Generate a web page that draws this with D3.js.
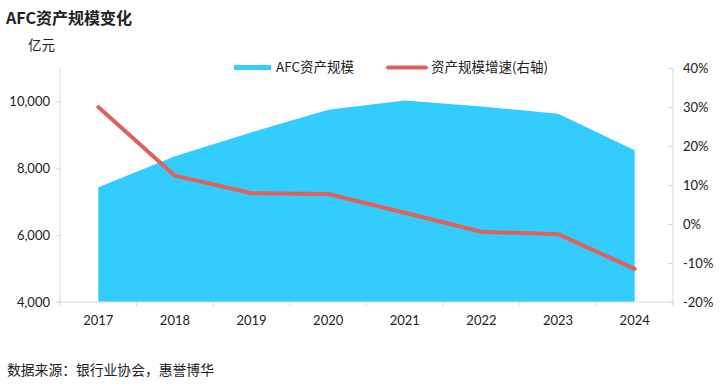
<!DOCTYPE html>
<html>
<head>
<meta charset="utf-8">
<script src="https://cdn.jsdelivr.net/npm/d3@7"></script>
<style>
  body { margin: 0; background: #fff; }
  svg text { font-family: Lato, "Noto Sans CJK SC", sans-serif; fill: #222; }
  .cjk { font-family: "Noto Sans CJK SC", sans-serif; }
</style>
</head>
<body>
<div id="chart"></div>
<script>
'use strict';

// data
var years = ['2017', '2018', '2019', '2020', '2021', '2022', '2023', '2024'];
var assets = [7430, 8360, 9080, 9750, 10030, 9850, 9630, 8540];   // 亿元
var growth = [30.0, 12.4, 7.9, 7.7, 2.9, -2.0, -2.6, -11.5];      // %
var leftTicks = [4000, 6000, 8000, 10000];
var rightTicks = [-20, -10, 0, 10, 20, 30, 40];

(function(){
  var width = 720, height = 387;
  var plotLeft = 60, plotRight = 673, plotTop = 68, plotBottom = 302;
  var areaColor = '#33ccff', lineColor = '#e0605a', axisColor = '#d9d9d9';

  var svg = d3.select('#chart')
    .append('svg')
    .attr('width', width)
    .attr('height', height);

  var x = d3.scaleBand()
    .domain(years)
    .range([plotLeft, plotRight]);

  var yLeft = d3.scaleLinear()
    .domain([4000, 11000])
    .range([plotBottom, plotTop]);

  var yRight = d3.scaleLinear()
    .domain([-20, 40])
    .range([plotBottom, plotTop]);

  var cx = function(i){ return x(years[i]) + x.bandwidth() / 2; };

  // area
  var area = d3.area()
    .x(function(d, i){ return cx(i); })
    .y0(yLeft(4000))
    .y1(function(d){ return yLeft(d); });

  svg.append('path')
    .attr('d', area(assets))
    .attr('fill', areaColor);

  // line
  var line = d3.line()
    .x(function(d, i){ return cx(i); })
    .y(function(d){ return yRight(d); });

  svg.append('path')
    .attr('d', line(growth))
    .attr('fill', 'none')
    .attr('stroke', lineColor)
    .attr('stroke-width', 4)
    .attr('stroke-linejoin', 'round')
    .attr('stroke-linecap', 'round');

  // left axis
  var gl = svg.append('g')
    .attr('transform', 'translate(' + plotLeft + ',0)')
    .call(d3.axisLeft(yLeft).tickValues(leftTicks).tickFormat(d3.format(',')).tickSize(4).tickPadding(6));

  // right axis
  var gr = svg.append('g')
    .attr('transform', 'translate(' + plotRight + ',0)')
    .call(d3.axisRight(yRight).tickValues(rightTicks).tickFormat(function(d){ return d + '%'; }).tickSize(0).tickPadding(10));
  gr.selectAll('.tick').append('line')
    .attr('x1', -5).attr('x2', 0);

  // bottom axis, ticks between categories
  var gb = svg.append('g')
    .attr('transform', 'translate(0,' + plotBottom + ')')
    .call(d3.axisBottom(x).tickSize(0).tickPadding(14));
  var bounds = d3.range(years.length + 1).map(function(i){ return plotLeft + i * x.bandwidth(); });
  gb.selectAll('.sep')
    .data(bounds)
    .enter()
    .append('line')
    .attr('class', 'sep')
    .attr('x1', function(d){ return d; })
    .attr('x2', function(d){ return d; })
    .attr('y1', 0)
    .attr('y2', 4);

  [gl, gr, gb].forEach(function(g){
    g.selectAll('.domain').remove();
    g.selectAll('line').attr('stroke', axisColor);
    g.selectAll('text').style('font-size', '13px').attr('fill', '#222');
  });

  svg.append('line')
    .attr('x1', plotLeft).attr('x2', plotLeft).attr('y1', plotTop).attr('y2', plotBottom)
    .attr('stroke', axisColor);
  svg.append('line')
    .attr('x1', plotRight).attr('x2', plotRight).attr('y1', plotTop).attr('y2', plotBottom + 4)
    .attr('stroke', axisColor);
  svg.append('line')
    .attr('x1', plotLeft - 4).attr('x2', plotRight).attr('y1', plotBottom).attr('y2', plotBottom)
    .attr('stroke', axisColor);

  // title & unit
  svg.append('text')
    .attr('class', 'cjk')
    .attr('x', 6).attr('y', 24)
    .style('font-size', '16px')
    .style('font-weight', 'bold')
    .text('AFC资产规模变化');

  svg.append('text')
    .attr('class', 'cjk')
    .attr('x', 28).attr('y', 50)
    .style('font-size', '13.5px')
    .text('亿元');

  // legend
  svg.append('rect')
    .attr('x', 234).attr('y', 65)
    .attr('width', 37).attr('height', 5)
    .attr('fill', areaColor);
  svg.append('text')
    .attr('class', 'cjk')
    .attr('x', 276).attr('y', 72)
    .style('font-size', '13.5px')
    .text('AFC资产规模');

  svg.append('line')
    .attr('x1', 388).attr('x2', 426)
    .attr('y1', 67.5).attr('y2', 67.5)
    .attr('stroke', lineColor)
    .attr('stroke-width', 4)
    .attr('stroke-linecap', 'round');
  svg.append('text')
    .attr('class', 'cjk')
    .attr('x', 431).attr('y', 72)
    .style('font-size', '13.5px')
    .text('资产规模增速(右轴)');

  // source
  svg.append('text')
    .attr('class', 'cjk')
    .attr('x', 7).attr('y', 375)
    .style('font-size', '13.8px')
    .text('数据来源：银行业协会，惠誉博华');
})();
</script>
</body>
</html>
